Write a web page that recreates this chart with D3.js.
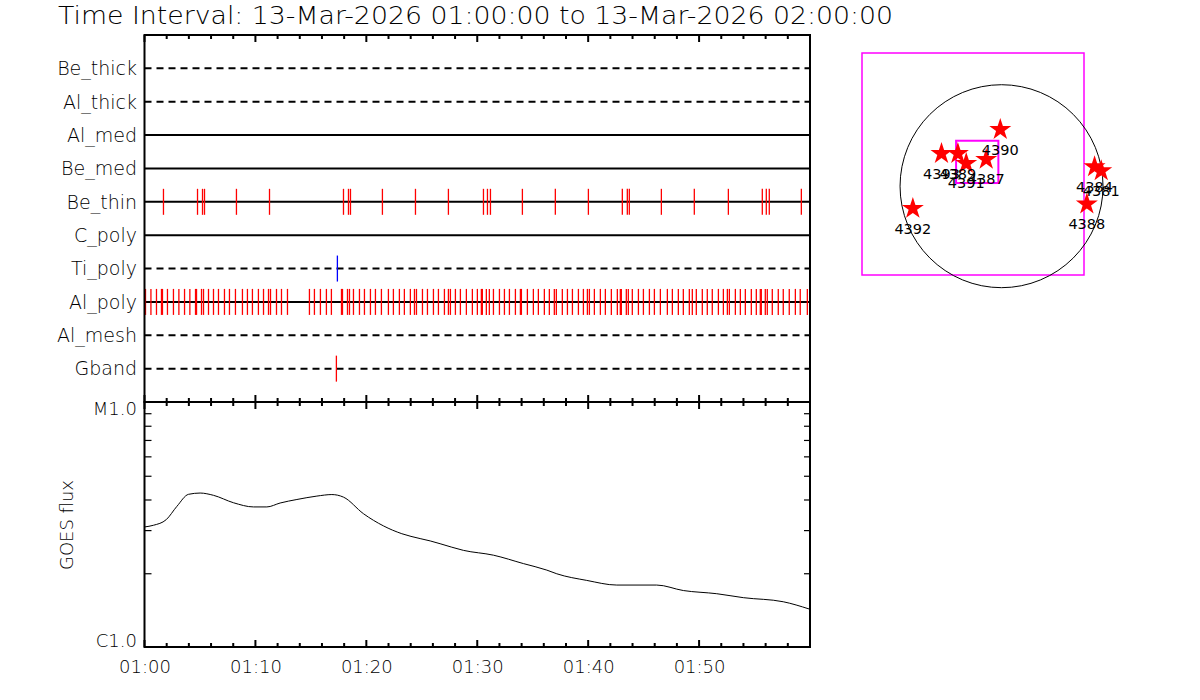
<!DOCTYPE html>
<html>
<head>
<meta charset="utf-8">
<script src="https://cdn.jsdelivr.net/npm/d3@7"></script>
<style>
  body { margin: 0; background: #fff; }
  svg text { font-family: "DejaVu Sans", sans-serif; font-weight: 200; fill: #000; }
  svg text.ar { font-weight: normal; }
</style>
</head>
<body>
<div id="chart"></div>
<script>
// ---- data ----
var titleText = "Time Interval: 13-Mar-2026 01:00:00 to 13-Mar-2026 02:00:00";

var filterNames = ["Be_thick", "Al_thick", "Al_med", "Be_med", "Be_thin",
  "C_poly", "Ti_poly", "Al_poly", "Al_mesh", "Gband"];

// event times, minutes after 01:00
var beThinTimes = [1.71, 4.78, 5.23, 5.41, 8.29, 11.27, 17.94, 18.39, 18.57, 21.45,
  24.43, 27.40, 30.56, 30.92, 31.19, 34.07, 37.04, 40.02, 43.08, 43.53, 43.71,
  46.60, 49.57, 52.64, 55.70, 56.06, 56.33, 59.22];
var tiPolyTimes = [17.39];
var gbandTimes = [17.30];
var alPolyTimes = [0.09, 0.58, 1.08, 1.53, 1.62, 2.07, 2.61, 3.10, 3.61, 4.09,
  4.60, 4.69, 5.14, 5.32, 5.77, 6.22, 6.67, 7.21, 7.66, 8.20, 8.83, 9.28, 9.73,
  10.27, 10.73, 11.18, 11.36, 11.90, 12.35, 12.89,
  14.87, 15.32, 15.86, 16.40, 16.85, 17.76, 17.85, 18.30, 18.48, 18.84, 19.38,
  19.83, 20.37, 20.82, 21.36, 21.99, 22.44, 22.98, 23.43, 23.97, 24.34, 24.52,
  25.06, 25.51, 26.05, 26.50, 27.04, 27.40, 27.58, 28.03, 28.48, 29.02, 29.56,
  30.01, 30.37, 30.46, 30.82, 31.09, 31.46, 32.00, 32.45, 32.90, 33.44, 33.89,
  33.98, 34.52, 35.06, 35.51, 36.05, 36.50, 36.95, 37.13, 37.67, 38.13, 38.58,
  39.12, 39.57, 39.93, 40.11, 40.56, 41.10, 41.55, 42.09, 42.63, 42.90, 42.99,
  43.44, 43.62, 43.98, 44.53, 44.98, 45.52, 45.97, 46.51, 47.14, 47.59, 48.13,
  48.58, 49.12, 49.39, 49.75, 50.29, 50.74, 51.19, 51.74, 52.19, 52.55, 52.73,
  53.27, 53.72, 54.17, 54.71, 55.16, 55.52, 55.61, 55.97, 56.15, 56.60, 57.14,
  57.59, 58.13, 58.68, 59.12, 59.76];

// GOES curve (minutes after 01:00, flux W/m^2)
var goesMinutes = [0, 0.81, 1.96, 2.92, 3.97, 5.02, 6.22, 8.02, 9.83, 11.03, 12.23,
  13.74, 15.54, 16.89, 17.94, 19.74, 21.55, 23.20, 24.85, 25.76, 26.65, 28.75,
  31.46, 34.16, 36.27, 37.17, 39.87, 42.58, 46.18, 48.58, 51.59, 53.99, 57.59, 59.91];
var goesFlux = [3.09e-6, 3.14e-6, 3.31e-6, 3.75e-6, 4.20e-6, 4.25e-6, 4.16e-6, 3.88e-6,
  3.73e-6, 3.73e-6, 3.87e-6, 4.00e-6, 4.13e-6, 4.19e-6, 4.09e-6, 3.50e-6, 3.12e-6,
  2.90e-6, 2.77e-6, 2.71e-6, 2.64e-6, 2.48e-6, 2.37e-6, 2.19e-6, 2.06e-6, 1.99e-6,
  1.87e-6, 1.79e-6, 1.79e-6, 1.70e-6, 1.65e-6, 1.59e-6, 1.53e-6, 1.43e-6];
var goesLabels = [{ v: 1e-5, t: "M1.0" }, { v: 1e-6, t: "C1.0" }];

// active regions on the disk map (arcsec)
var arNumbers = ["4390", "4393", "4389", "4391", "4387", "4384", "4381", "4388", "4392"];
var arX = [-12, -568, -413, -334, -145, 880, 943, 807, -839];
var arY = [536, 309, 309, 215, 253, 183, 145, -170, -211];
var sunRadius = 960;
var fovBox = [-1320, 780, -840, 1260];
var zoomBox = [-430, -30, 30, 430];

// ---- layout ----
var svgWidth = 1200;
var svgHeight = 700;
var plotLeft = 144.5, plotRight = 810;
var eventTop = 35, eventBottom = 402, goesBottom = 647;
var dashedRows = ["Be_thick", "Al_thick", "Ti_poly", "Al_mesh", "Gband"];

var svg = d3.select("#chart").append("svg")
  .attr("width", svgWidth)
  .attr("height", svgHeight);

svg.append("rect").attr("width", svgWidth).attr("height", svgHeight).attr("fill", "#fff");

var t0 = new Date(Date.UTC(2026, 2, 13, 1, 0, 0));
var t1 = new Date(Date.UTC(2026, 2, 13, 2, 0, 0));
function atMin(m) { return new Date(t0.getTime() + m * 60000); }

var x = d3.scaleUtc().domain([t0, t1]).range([plotLeft, plotRight]);
var yRow = d3.scalePoint().domain(filterNames).range([eventTop, eventBottom]).padding(1);
var yFlux = d3.scaleLog().domain([1e-6, 1e-5]).range([goesBottom, eventBottom]);

// title
svg.append("text")
  .attr("x", 58).attr("y", 24)
  .attr("font-size", 24)
  .attr("textLength", 835)
  .attr("lengthAdjust", "spacingAndGlyphs")
  .text(titleText);

// ---- event panel ----
var rows = svg.append("g");
rows.selectAll("line.row")
  .data(filterNames)
  .enter()
  .append("line")
  .attr("class", "row")
  .attr("x1", plotLeft).attr("x2", plotRight)
  .attr("y1", d => yRow(d)).attr("y2", d => yRow(d))
  .attr("stroke", "#000")
  .attr("stroke-width", 2)
  .attr("stroke-dasharray", d => dashedRows.indexOf(d) >= 0 ? "7,5" : null);

rows.selectAll("text.rowlabel")
  .data(filterNames)
  .enter()
  .append("text")
  .attr("class", "rowlabel")
  .attr("x", 137)
  .attr("y", d => yRow(d))
  .attr("dy", "0.36em")
  .attr("text-anchor", "end")
  .attr("font-size", 19)
  .text(d => d);

function drawEvents(times, row, color) {
  svg.append("g").selectAll("line")
    .data(times)
    .enter()
    .append("line")
    .attr("x1", d => x(atMin(d))).attr("x2", d => x(atMin(d)))
    .attr("y1", yRow(row) - 13).attr("y2", yRow(row) + 13)
    .attr("stroke", color)
    .attr("stroke-width", 1.3);
}
drawEvents(beThinTimes, "Be_thin", "#ff0000");
drawEvents(tiPolyTimes, "Ti_poly", "#0000ff");
drawEvents(alPolyTimes, "Al_poly", "#ff0000");
drawEvents(gbandTimes, "Gband", "#ff0000");

// time ticks (no labels) on the event panel and GOES panel
var minorTicks = d3.utcMinute.every(2).range(t0, t1);
var majorTicks = d3.utcMinute.every(10).range(t0, t1);

function timeTicks(y0, dir) {
  svg.append("g").selectAll("line").data(minorTicks).enter().append("line")
    .attr("x1", d => x(d)).attr("x2", d => x(d))
    .attr("y1", y0).attr("y2", d => y0 + dir * (majorTicks.some(m => +m === +d) ? 7 : 4))
    .attr("stroke", "#000").attr("stroke-width", 2);
}
timeTicks(eventTop, 1);
timeTicks(eventBottom, -1);
timeTicks(eventBottom, 1);
timeTicks(goesBottom, -1);

// ---- GOES panel ----
var goesLine = d3.line()
  .x((d, i) => x(atMin(goesMinutes[i])))
  .y(d => yFlux(d))
  .curve(d3.curveMonotoneX);

svg.append("path")
  .datum(goesFlux)
  .attr("d", goesLine)
  .attr("fill", "none")
  .attr("stroke", "#000")
  .attr("stroke-width", 1);

var fluxMinor = d3.range(2, 10).map(k => k * 1e-6);
var leftAxis = d3.axisRight(yFlux).tickValues(fluxMinor).tickSize(7).tickFormat("");
svg.append("g").attr("transform", `translate(${plotLeft}, 0)`).call(leftAxis)
  .call(g => g.select(".domain").remove())
  .selectAll("line").attr("stroke-width", 1.2);
var rightAxis = d3.axisLeft(yFlux).tickValues(fluxMinor).tickSize(6).tickFormat("");
svg.append("g").attr("transform", `translate(${plotRight}, 0)`).call(rightAxis)
  .call(g => g.select(".domain").remove())
  .selectAll("line").attr("stroke-width", 1.2);

svg.selectAll("text.fluxlabel")
  .data(goesLabels)
  .enter()
  .append("text")
  .attr("class", "fluxlabel")
  .attr("x", 137)
  .attr("y", d => d.v === 1e-5 ? yFlux(d.v) + 13 : yFlux(d.v))
  .attr("text-anchor", "end")
  .attr("font-size", 18)
  .text(d => d.t);

svg.append("text")
  .attr("transform", "translate(73, 525) rotate(-90)")
  .attr("text-anchor", "middle")
  .attr("font-size", 18)
  .text("GOES flux");

// bottom time labels
var bottomAxis = d3.axisBottom(x).tickValues(majorTicks).tickSize(0)
  .tickFormat(d3.utcFormat("%H:%M"));
svg.append("g").attr("transform", `translate(0, ${goesBottom})`).call(bottomAxis)
  .call(g => g.select(".domain").remove())
  .selectAll("text")
  .attr("y", 26).attr("dy", null)
  .attr("font-size", 18)
  .attr("font-family", "DejaVu Sans")
  .attr("fill", "#000");

// frames
svg.append("rect")
  .attr("x", plotLeft).attr("y", eventTop)
  .attr("width", plotRight - plotLeft).attr("height", eventBottom - eventTop)
  .attr("fill", "none").attr("stroke", "#000").attr("stroke-width", 2);
svg.append("rect")
  .attr("x", plotLeft).attr("y", eventBottom)
  .attr("width", plotRight - plotLeft).attr("height", goesBottom - eventBottom)
  .attr("fill", "none").attr("stroke", "#000").attr("stroke-width", 2);

// ---- disk map ----
var mapX = d3.scaleLinear().domain([fovBox[0], fovBox[1]]).range([862, 1084]);
var mapY = d3.scaleLinear().domain([fovBox[3], fovBox[2]]).range([53, 275]);
var map = svg.append("g");

map.append("rect")
  .attr("x", mapX(fovBox[0])).attr("y", mapY(fovBox[3]))
  .attr("width", mapX(fovBox[1]) - mapX(fovBox[0]))
  .attr("height", mapY(fovBox[2]) - mapY(fovBox[3]))
  .attr("fill", "none").attr("stroke", "#ff00ff").attr("stroke-width", 1.5);

map.append("circle")
  .attr("cx", mapX(0)).attr("cy", mapY(0))
  .attr("r", mapX(sunRadius) - mapX(0))
  .attr("fill", "none").attr("stroke", "#000").attr("stroke-width", 1);

map.append("rect")
  .attr("x", mapX(zoomBox[0])).attr("y", mapY(zoomBox[3]))
  .attr("width", mapX(zoomBox[1]) - mapX(zoomBox[0]))
  .attr("height", mapY(zoomBox[2]) - mapY(zoomBox[3]))
  .attr("fill", "none").attr("stroke", "#ff00ff").attr("stroke-width", 2);

var star = d3.symbol().type(d3.symbolStar).size(150);
map.selectAll("path.star")
  .data(arNumbers)
  .enter()
  .append("path")
  .attr("class", "star")
  .attr("transform", (d, i) => `translate(${mapX(arX[i])}, ${mapY(arY[i])})`)
  .attr("d", star)
  .attr("fill", "#ff0000");

map.selectAll("text.ar")
  .data(arNumbers)
  .enter()
  .append("text")
  .attr("class", "ar")
  .attr("x", (d, i) => mapX(arX[i]))
  .attr("y", (d, i) => mapY(arY[i]) + 25)
  .attr("text-anchor", "middle")
  .attr("font-size", 14.5)
  .text(d => d);
</script>
</body>
</html>
